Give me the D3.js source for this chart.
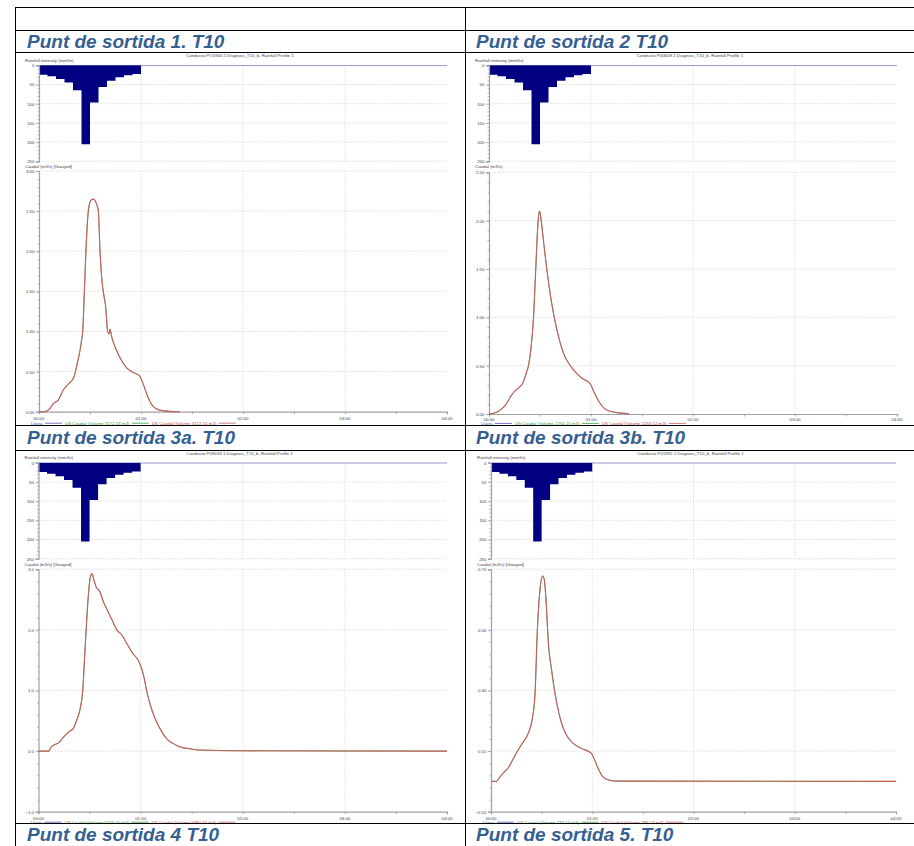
<!DOCTYPE html>
<html><head><meta charset="utf-8">
<script src="https://cdn.jsdelivr.net/npm/d3@7"></script>
<style>body{margin:0;background:#fff}svg{display:block}</style>
</head><body><svg id="c" width="914" height="846"></svg>
<script>
// ---------- DATA ----------
const rainStart = [0,5,10,15,20,25,30,35,40,45,50,55];           // minutes
const rainIntensity = [24.3,28.6,35.6,45,65,205.5,97,56.4,40,31.2,26,22.6]; // mm/hr
const rainTicks = [0,50,100,150,200,250];
const timeTicks = [0,60,120,180,240];
const timeLabels = ["00:00","01:00","02:00","03:00","04:00"];
const titles = ["Punt de sortida 1. T10","Punt de sortida 2 T10","Punt de sortida 3a. T10","Punt de sortida 3b. T10","Punt de sortida 4 T10","Punt de sortida 5. T10"];
const conduits = ["PO1940.1","P00609.1","P09243.1","P01992.1"];
const caudalLabels = ["Caudal (m3/s) [Gauged]","Caudal (m3/s)","Caudal (m3/s) [Gauged]","Caudal (m3/s) [Gauged]"];
const usVolumes = ["3172.33","2254.15","5379.20","784.10"];
const dsVolumes = ["3172.51","2253.12","5380.16","786.13"];
const flowTicks1 = [0,0.5,1,1.5,2,2.5,3];
const flowTicks2 = [0,0.5,1,1.5,2,2.5];
const flowTicks3 = [-1,0,1,2,3];
const flowTicks4 = [-0.1,0.1,0.3,0.5,0.7];

const t1  = [0,3.5,6.4,8.4,11.3,14.3,17.2,20.5,22.5,24,25.1,25.7,26.7,27.6,29.0,29.8,30.8,31.9,33,34,34.9,35.9,37.2,37.8,39.2,40.4,41.2,41.8,42.7,45.5,48.5,51.4,55.3,59.2,61.2,64.1,67,71,76.8,82.7];
const us1 = [0,0,0.04,0.10,0.145,0.27,0.345,0.43,0.60,0.75,0.9,1.0,1.5,2.0,2.5,2.6,2.64,2.65,2.63,2.58,2.5,2.0,1.6,1.5,1.31,1.0,0.97,1.03,0.94,0.77,0.64,0.55,0.49,0.445,0.35,0.18,0.07,0.02,0.004,0];
const ds1 = [0,0,0.04,0.10,0.145,0.27,0.345,0.43,0.60,0.75,0.9,1.0,1.5,2.0,2.5,2.6,2.64,2.65,2.63,2.58,2.5,2.0,1.6,1.5,1.31,1.0,0.97,1.03,0.94,0.77,0.64,0.55,0.49,0.445,0.35,0.18,0.07,0.02,0.004,0];

const t2  = [0,2.6,6.5,9.4,12.4,14.8,17.3,19.9,21.5,23.2,24.5,26.2,27.5,28.9,29.7,30.7,32.3,34.0,36.2,38.4,40.9,44.0,47.8,51,54.7,59.6,62.2,65.1,69.4,75.3,82.2];
const us2 = [0,0.007,0.04,0.086,0.17,0.23,0.27,0.32,0.40,0.50,0.65,1.0,1.5,2.0,2.10,2.0,1.75,1.5,1.22,1.0,0.8,0.62,0.50,0.43,0.37,0.31,0.21,0.117,0.04,0.014,0.003];
const ds2 = [0,0.007,0.04,0.086,0.17,0.23,0.27,0.32,0.40,0.50,0.65,1.0,1.5,2.0,2.10,2.0,1.75,1.5,1.22,1.0,0.8,0.62,0.50,0.43,0.37,0.31,0.21,0.117,0.04,0.014,0.003];

const t3  = [0,6.2,7.2,9.1,12,15,17.9,20.4,22.3,24.7,26,27,28,29.1,30.5,31.5,32.4,34,35.9,38.3,40.2,43.1,46,48.9,51.8,55.7,58.6,61.9,63.5,65.4,68.3,71.3,75.1,79,82.9,88.7,94.6,120,240];
const us3 = [0,0,0.06,0.10,0.14,0.24,0.32,0.375,0.5,0.73,1.0,1.5,2.0,2.5,2.88,2.93,2.84,2.70,2.64,2.45,2.34,2.17,2.0,1.92,1.78,1.6,1.5,1.23,1.0,0.79,0.55,0.375,0.21,0.127,0.072,0.039,0.017,0.005,0];
const ds3 = [0,0,0.06,0.10,0.14,0.24,0.32,0.375,0.5,0.73,1.0,1.5,2.0,2.5,2.88,2.93,2.84,2.70,2.64,2.45,2.34,2.17,2.0,1.92,1.78,1.6,1.5,1.23,1.0,0.79,0.55,0.375,0.21,0.127,0.072,0.039,0.017,0.005,0];

const t4  = [0,3.1,5.5,7.5,10.4,13.3,16.3,19.2,21.2,23.1,24.7,26.1,27.4,29,30.6,31.6,32.6,34,35.9,38.8,41.8,44.7,48.6,53.5,59.4,61.4,63.9,66.7,70.2,74.1,240];
const us4 = [0,0,0.016,0.029,0.046,0.076,0.106,0.131,0.148,0.175,0.214,0.29,0.49,0.632,0.678,0.665,0.599,0.456,0.368,0.263,0.192,0.153,0.126,0.109,0.093,0.071,0.038,0.013,0.004,0.001,0];
const ds4 = [0,0,0.016,0.029,0.046,0.076,0.106,0.131,0.148,0.175,0.214,0.29,0.49,0.632,0.678,0.665,0.599,0.456,0.368,0.263,0.192,0.153,0.126,0.109,0.093,0.071,0.038,0.013,0.004,0.001,0];

// ---------- PANELS ----------
const panels = [
  {t:t1, us:us1, ds:ds1, ticks:flowTicks1, fmt:".2f", minor:0.1, L:{x0:39,x1:447,head:57,rainLab:61.8,r0:65.3,r1:161.3,cLab:168.2,h0:171,h1:411.7,xl:420,lg:424.6}},
  {t:t2, us:us2, ds:ds2, ticks:flowTicks2, fmt:".2f", minor:0.1, L:{x0:489,x1:897,head:57,rainLab:61.8,r0:65.3,r1:161.3,cLab:167.8,h0:172.3,h1:414,xl:421,lg:424.8}},
  {t:t3, us:us3, ds:ds3, ticks:flowTicks3, fmt:".1f", minor:0.2, L:{x0:38.5,x1:447,head:455,rainLab:458.8,r0:462.7,r1:558.7,cLab:566.2,h0:569.3,h1:811.7,xl:819.5,lg:823.6}},
  {t:t4, us:us4, ds:ds4, ticks:flowTicks4, fmt:".2f", minor:0.04, L:{x0:491,x1:896,head:455,rainLab:458.8,r0:462.7,r1:558.7,cLab:566.2,h0:569.3,h1:811.7,xl:819.5,lg:823.6}}
];

const svg = d3.select("#c");
svg.append("rect").attr("width",914).attr("height",846).attr("fill","#fff");
const FONT = "Liberation Sans, Arial, sans-serif";
const small = 4.4;
const axisCol = "#a0a0a0", gridCol = "#cfcfcf", txtCol = "#444";

panels.forEach((p,i)=>{
  const L = p.L;
  const g = svg.append("g");
  const x = d3.scaleLinear().domain([0,240]).range([L.x0,L.x1]);
  const yr = d3.scaleLinear().domain([0,250]).range([L.r0,L.r1]);
  const ext = d3.extent(p.ticks);
  const yh = d3.scaleLinear().domain(ext).range([L.h1,L.h0]);

  // header
  g.append("text").attr("x",(L.x0+L.x1)/2-3).attr("y",L.head).attr("text-anchor","middle")
    .attr("font-family",FONT).attr("font-size",small).attr("fill",txtCol)
    .text("Conducto  " + conduits[i] + " Diagnosi_T10_b, Rainfall Profile 1");
  g.append("text").attr("x",L.x0-14).attr("y",L.rainLab).attr("font-family",FONT).attr("font-size",small).attr("fill",txtCol)
    .text("Rainfall intensity (mm/hr)");
  g.append("text").attr("x",L.x0-14).attr("y",L.cLab).attr("font-family",FONT).attr("font-size",small).attr("fill",txtCol)
    .text(caudalLabels[i]);

  // grids
  const dash = "1.2,1.6";
  rainTicks.filter(v=>v>0).forEach(v=>{
    g.append("line").attr("x1",L.x0).attr("x2",L.x1).attr("y1",yr(v)).attr("y2",yr(v))
      .attr("stroke",gridCol).attr("stroke-width",0.8).attr("stroke-dasharray",dash);
  });
  p.ticks.forEach(v=>{
    if (v===ext[0]) return;
    g.append("line").attr("x1",L.x0).attr("x2",L.x1).attr("y1",yh(v)).attr("y2",yh(v))
      .attr("stroke",gridCol).attr("stroke-width",0.8).attr("stroke-dasharray",dash);
  });
  timeTicks.filter(v=>v>0 && v<240).forEach(v=>{
    [[L.r0,L.r1],[L.h0,L.h1]].forEach(([a,b])=>{
      g.append("line").attr("x1",x(v)).attr("x2",x(v)).attr("y1",a).attr("y2",b)
        .attr("stroke",gridCol).attr("stroke-width",0.8).attr("stroke-dasharray",dash);
    });
  });

  // rainfall hyetograph as a stepped area (no seams)
  const stepData = rainStart.map((s,j)=>[s,rainIntensity[j]]).concat([[60,rainIntensity[rainIntensity.length-1]]]);
  const area = d3.area().x(d=>x(d[0])).y0(yr(0)).y1(d=>yr(d[1])).curve(d3.curveStepAfter);
  g.append("path").attr("d",area(stepData)).attr("fill","#000080");
  g.append("line").attr("x1",x(60)).attr("x2",L.x1).attr("y1",yr(0)+0.3).attr("y2",yr(0)+0.3)
    .attr("stroke","#8c8cd0").attr("stroke-width",0.9);

  // axes
  const ra = g.append("g").attr("transform",`translate(${L.x0},0)`)
    .call(d3.axisLeft(yr).tickValues(rainTicks).tickSize(3).tickPadding(1.5));
  const rMinor = d3.range(0,250.1,10);
  const ra2 = g.append("g").attr("transform",`translate(${L.x0},0)`)
    .call(d3.axisLeft(yr).tickValues(rMinor).tickSize(1.5).tickFormat(""));
  const ha = g.append("g").attr("transform",`translate(${L.x0},0)`)
    .call(d3.axisLeft(yh).tickValues(p.ticks).tickSize(3).tickPadding(1.5).tickFormat(d3.format(p.fmt)));
  const hMinor = d3.range(ext[0], ext[1]+1e-9, p.minor);
  const ha2 = g.append("g").attr("transform",`translate(${L.x0},0)`)
    .call(d3.axisLeft(yh).tickValues(hMinor).tickSize(1.5).tickFormat(""));
  const xa = g.append("g").attr("transform",`translate(0,${L.h1})`)
    .call(d3.axisBottom(x).tickValues(d3.range(0,241,30)).tickSize(2.5).tickFormat(""));
  [ra,ra2,ha,ha2,xa].forEach(a=>{
    a.select(".domain").attr("stroke",axisCol).attr("stroke-width",1.2);
    a.selectAll(".tick line").attr("stroke",axisCol).attr("stroke-width",0.8);
    a.selectAll("text").attr("font-family",FONT).attr("font-size",small).attr("fill",txtCol);
  });
  ha2.select(".domain").remove(); ra2.select(".domain").remove();
  timeTicks.forEach((v,j)=>{
    g.append("text").attr("x",x(v)).attr("y",L.xl).attr("text-anchor","middle")
      .attr("font-family",FONT).attr("font-size",small).attr("fill",txtCol).text(timeLabels[j]);
  });

  // flow lines
  const line = d3.line().x((d,j)=>x(p.t[j])).y(d=>yh(d)).curve(d3.curveMonotoneX);
  g.append("path").attr("d",line(p.us)).attr("fill","none").attr("stroke","#3e9a3e").attr("stroke-width",0.8);
  g.append("path").attr("d",line(p.ds)).attr("fill","none").attr("stroke","#c85e5e").attr("stroke-width",1.1);

  // legend
  let lx = L.x0-8;
  const items = [["Lluvia","#4a4ab0","#5050c0"],
                 ["US Caudal (Volume "+usVolumes[i]+" m3)","#3a9a3a","#3a9a3a"],
                 ["DS Caudal (Volume "+dsVolumes[i]+" m3)","#c04848","#c86060"]];
  items.forEach(([s,tc,lc])=>{
    const t = g.append("text").attr("x",lx).attr("y",L.lg).attr("font-family",FONT).attr("font-size",small).attr("fill",tc).text(s);
    const w = t.node().getComputedTextLength();
    lx += w + 2.5;
    g.append("line").attr("x1",lx).attr("x2",lx+17).attr("y1",L.lg-1.4).attr("y2",L.lg-1.4).attr("stroke",lc).attr("stroke-width",0.8);
    lx += 20;
  });
});

// ---------- TABLE ----------
const tbl = svg.append("g").attr("stroke","#000").attr("stroke-width",1);
[7.5,30.5,52.5,425.5,450.5,823.5].forEach(y=>{
  tbl.append("line").attr("x1",15).attr("x2",914).attr("y1",y).attr("y2",y);
});
[15.5,465.5].forEach(xv=>{
  tbl.append("line").attr("x1",xv).attr("x2",xv).attr("y1",7).attr("y2",846);
});
const tpos = [[27,47.5],[476,47.5],[27,443.5],[476,443.5],[27,840.5],[476,840.5]];
titles.forEach((s,i)=>{
  svg.append("text").attr("x",tpos[i][0]).attr("y",tpos[i][1])
    .attr("font-family",FONT).attr("font-weight","bold").attr("font-style","italic")
    .attr("font-size",19).attr("fill","#365f91").text(s);
});
</script></body></html>
